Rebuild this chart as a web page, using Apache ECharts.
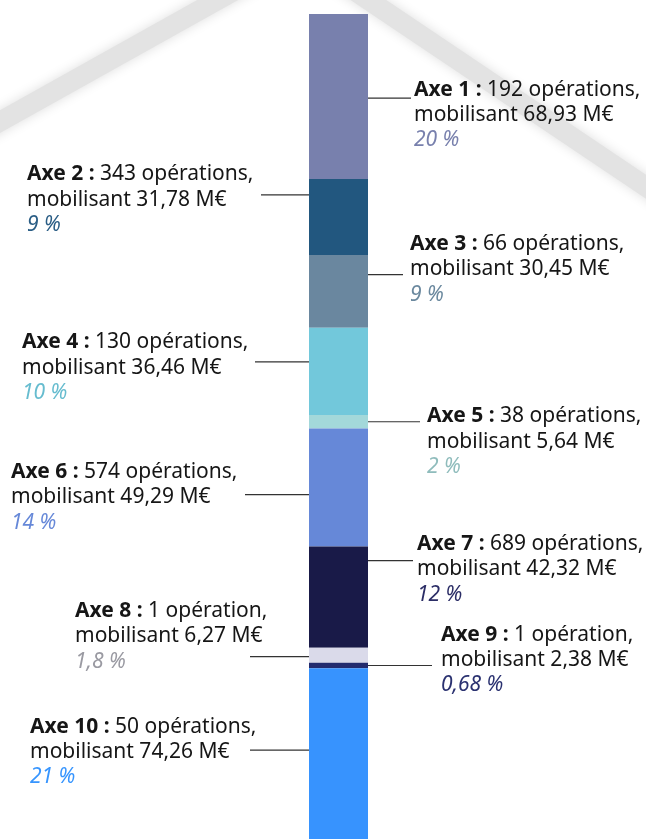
<!DOCTYPE html>
<html><head><meta charset="utf-8">
<script src="https://cdn.jsdelivr.net/npm/echarts@6/dist/echarts.min.js"></script>
<style>html,body{margin:0;padding:0;background:#fff;width:646px;height:839px;overflow:hidden}#c{width:646px;height:870px}</style>
</head><body><div id="c"></div>
<script>
const axes = ['Axe 1','Axe 2','Axe 3','Axe 4','Axe 5','Axe 6','Axe 7','Axe 8','Axe 9','Axe 10'];
const operations = [192, 343, 66, 130, 38, 574, 689, 1, 1, 50];
const amounts = [68.93, 31.78, 30.45, 36.46, 5.64, 49.29, 42.32, 6.27, 2.38, 74.26];
const percents = ['20 %','9 %','9 %','10 %','2 %','14 %','12 %','1,8 %','0,68 %','21 %'];
const colors = ['#7880ad','#22577f','#6a879f','#72c8db','#a3d8da','#6688d8','#191a48','#dadaea','#232b6e','#3793fe'];
const pctColors = ['#7880ad','#2a5d85','#6a889e','#66bccf','#8fbcbc','#6688d8','#2b2d66','#9a9aa2','#2a3170','#3795fe'];
// label layout: side, text x, baseline offset from leader, outer end of leader, leader position within segment
const labelSide = ['r','l','r','l','r','l','r','l','r','l'];
const labelX = [414, 27, 410, 22, 427, 11, 417, 75, 441, 30];
const labelDy = [-7, -19, -29, -18, -4, -21, -15, -44, -29, -22];
const lineOuter = [411, 261, 403, 255, 420, 245, 413, 250, 432, 250];
const leaderFrac = [0.51, 0.21, 0.27, 0.39, 0.5, 0.56, 0.14, 0.6, 0.5, 0.46];

const total = amounts.reduce((a,b)=>a+b,0);
const FONT = '"Noto Sans", "Open Sans", sans-serif';
const FS = 21, LH = 25.2;

const chart = echarts.init(document.getElementById('c'), null, {renderer:'canvas'});
chart.setOption({
  animation: false,
  backgroundColor: '#fff',
  grid: {left: 309, top: 14, width: 59, height: 832},
  xAxis: {type:'category', data:['Total'], show:false},
  yAxis: {type:'value', min:0, max: total, inverse:true, show:false},
  series: axes.map((a,i)=>({
    name: a, type:'bar', stack:'t', barWidth:'100%', data:[amounts[i]],
    itemStyle:{color: colors[i]}, z: 5
  }))
});

const g = [];
// background roof shadow
g.push({type:'polyline', z:-10, silent:true,
  shape:{points:[[-40,144],[300,-46],[700,223]]},
  style:{stroke:'#e3e3e3', lineWidth:20, fill:null, shadowBlur:12, shadowColor:'rgba(0,0,0,0.13)', lineJoin:'miter'}});
let cum = 0;
const fmt = v => v.toFixed(2).replace('.', ',');
axes.forEach((a,i)=>{
  const yTop = chart.convertToPixel({gridIndex:0},[0,cum])[1];
  const yBot = chart.convertToPixel({gridIndex:0},[0,cum+amounts[i]])[1];
  cum += amounts[i];
  const ly = yTop + (yBot - yTop) * leaderFrac[i];
  const barL = chart.convertToPixel({gridIndex:0},[0,0])[0] - 29.5;
  const barR = barL + 59;
  const x1 = labelSide[i]==='r' ? barR : lineOuter[i];
  const x2 = labelSide[i]==='r' ? lineOuter[i] : barL;
  g.push({type:'line', z:10, shape:{x1:x1,y1:ly,x2:x2,y2:ly}, style:{stroke:'#333', lineWidth:1.2}});
  const ops = operations[i] + (operations[i] > 1 ? ' opérations,' : ' opération,');
  g.push({type:'text', z:10, x: labelX[i], y: ly + labelDy[i] - 14,
    style:{
      text: '{b|' + a + ' :} ' + ops + '\nmobilisant ' + fmt(amounts[i]) + ' M€\n{p|' + percents[i] + '}',
      font: FS + 'px ' + FONT, fill:'#161616', lineHeight: LH,
      textVerticalAlign:'top', verticalAlign:'top', align:'left',
      rich:{
        b:{fontWeight:'bold', fontSize:FS, fontFamily:FONT, fill:'#161616', lineHeight:LH},
        p:{fontStyle:'italic', fontSize:FS, fontFamily:FONT, fill:pctColors[i], lineHeight:LH}
      }
    }});
});
chart.setOption({graphic: g});
</script></body></html>
